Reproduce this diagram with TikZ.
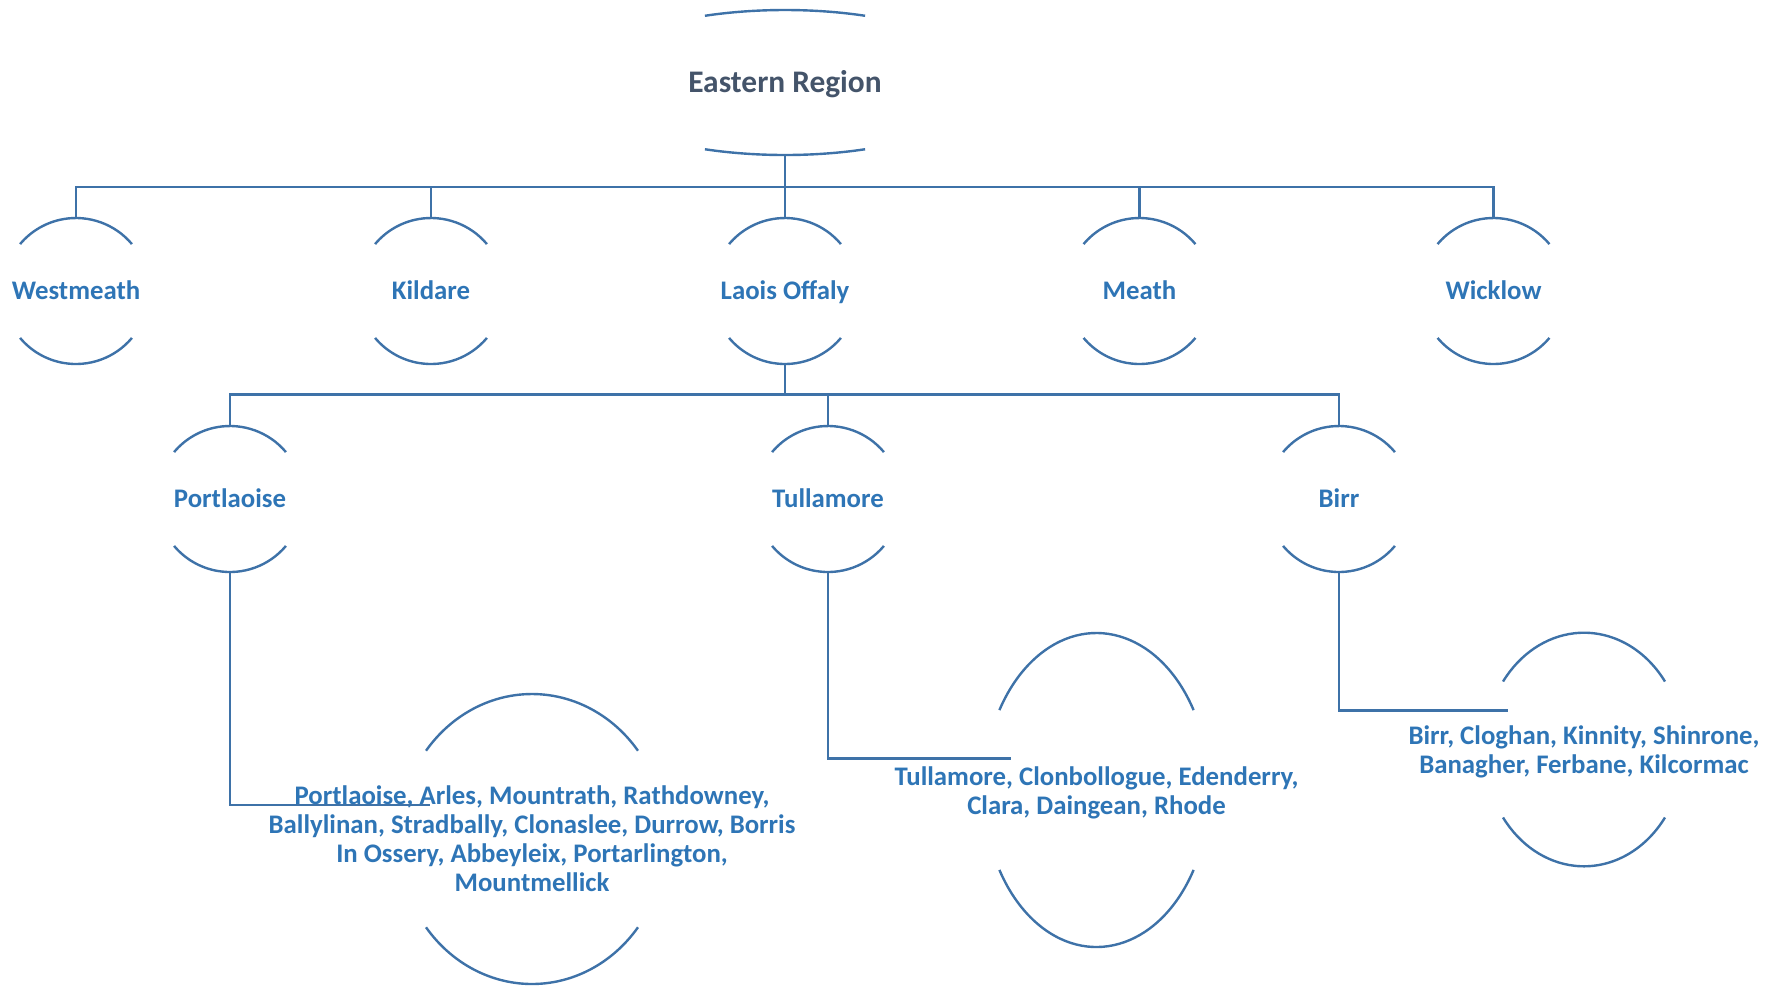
\documentclass[tikz,border=0pt]{standalone}
\usepackage{fontspec}
\setmainfont{Carlito}
\usetikzlibrary{shapes.geometric}
\definecolor{lineblue}{HTML}{3E72A8}
\definecolor{txtblue}{HTML}{2E75B6}
\definecolor{titlegray}{HTML}{44546A}
\newcommand\nodearcs[4]{%
  \draw[ln] (#1.center) ++(#4:#2 and #3) arc[start angle=#4,end angle={180-#4},x radius=#2,y radius=#3];
  \draw[ln] (#1.center) ++(-#4:#2 and #3) arc[start angle=-#4,end angle={-180+#4},x radius=#2,y radius=#3];}
\begin{document}
\begin{tikzpicture}[x=0.5pt,y=-0.5pt,
  ln/.style={draw=lineblue,line width=1.2pt},
  lvl/.style={circle,minimum size=73pt,inner sep=0pt,outer sep=0pt,text height=10.7pt,text depth=2.6pt,text=txtblue,font=\fontsize{13.4}{16}\selectfont\bfseries},
  ttl/.style={ellipse,minimum width=205pt,minimum height=72.5pt,inner sep=0pt,outer sep=0pt,text height=13.3pt,text depth=3pt,text=titlegray,font=\fontsize{15.7}{18}\selectfont\bfseries},
  leaf/.style={align=center,inner sep=0pt,text=txtblue,font=\fontsize{13.4}{14.5}\selectfont\bfseries}]
\useasboundingbox (0,0) rectangle (1778,987);
% title
\node[ttl] (er) at (785,82.5) {Eastern Region};
\nodearcs{er}{102.5pt}{36.25pt}{67}
% level 1
\node[lvl] (wm) at (76,291) {Westmeath};
\node[lvl] (kd) at (431,291) {Kildare};
\node[lvl] (lo) at (785,291) {Laois Offaly};
\node[lvl] (mt) at (1139.5,291) {Meath};
\node[lvl] (wk) at (1493.5,291) {Wicklow};
\foreach \n in {wm,kd,lo,mt,wk}{\nodearcs{\n}{36.5pt}{36.5pt}{40}}
% level 2
\node[lvl] (pl) at (230,499) {Portlaoise};
\node[lvl] (tm) at (828,499) {Tullamore};
\node[lvl] (br) at (1339,499) {Birr};
\foreach \n in {pl,tm,br}{\nodearcs{\n}{36.5pt}{36.5pt}{40}}
% leaves
\node[leaf] (plx) at (532,839) {Portlaoise, Arles, Mountrath, Rathdowney,\\Ballylinan, Stradbally, Clonaslee, Durrow, Borris\\In Ossery, Abbeyleix, Portarlington,\\Mountmellick};
\nodearcs{plx}{66.8pt}{72.5pt}{37.5}
\node[leaf] (tmx) at (1096.5,792.5) {Tullamore, Clonbollogue, Edenderry,\\Clara, Daingean, Rhode};
\node[leaf] (brx) at (1584,752) {Birr, Cloghan, Kinnity, Shinrone,\\Banagher, Ferbane, Kilcormac};
\coordinate (tmc) at (1096.5,790);
\coordinate (brc) at (1584,749.5);
\nodearcs{tmc}{56.4pt}{78.5pt}{30.6}
\nodearcs{brc}{49.8pt}{58.4pt}{35.6}
% buses
\coordinate (bus1) at (0,187);
\coordinate (bus2) at (0,394.6);
\coordinate (plend) at (430,805);
\coordinate (tmend) at (1011,758.5);
\coordinate (brend) at (1507.5,710.5);
\foreach \n in {wm,kd,lo,mt,wk}{\draw[ln] (er.south) -- (er.south |- bus1) -| (\n.north);}
\foreach \n in {pl,tm,br}{\draw[ln] (lo.south) -- (lo.south |- bus2) -| (\n.north);}
\draw[ln] (pl.south) |- (plend);
\draw[ln] (tm.south) |- (tmend);
\draw[ln] (br.south) |- (brend);
\end{tikzpicture}
\end{document}
